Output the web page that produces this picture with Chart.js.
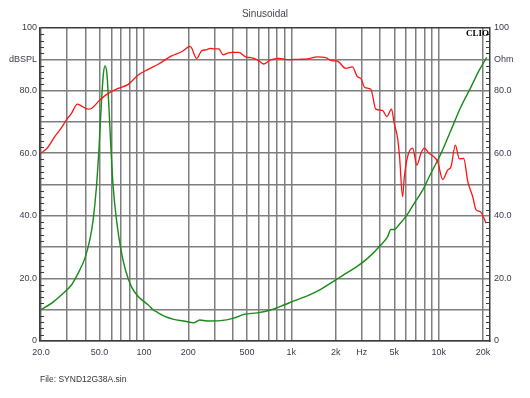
<!DOCTYPE html>
<html>
<head>
<meta charset="utf-8">
<script src="https://cdn.jsdelivr.net/npm/chart.js@4/dist/chart.umd.min.js"></script>
<style>
  html, body { margin: 0; padding: 0; background: #ffffff; }
  #wrap { width: 530px; height: 398px; position: relative; }
</style>
</head>
<body>
<div id="wrap"><canvas id="c" width="530" height="398"></canvas></div>
<script>
// ---- data ----
const freqSPL = [20, 22.3, 24.8, 27.5, 29.7, 32.2, 35.3, 37.6, 41.8, 44.0, 50.2, 57.2, 66.9, 78.2, 91.4, 107, 125, 154, 180, 206, 228, 247, 264, 282, 300, 322, 345, 370, 397, 440, 489, 530, 557, 602, 651, 723, 823, 939, 1126, 1285, 1503, 1712, 1900, 2055, 2341, 2600, 2812, 2961, 3152, 3463, 3745, 4159, 4449, 4789, 4989, 5262, 5420, 5691, 5834, 6153, 6655, 7118, 7579, 7980, 8630, 9103, 9845, 10650, 11510, 12130, 12970, 13810, 14790, 15750, 17030, 17940, 19190, 20980];
const spl = [60.0, 61.9, 65.3, 68.1, 70.6, 72.7, 75.7, 75.1, 74.1, 74.3, 77.0, 79.1, 80.7, 82.0, 85.0, 86.8, 88.4, 91.1, 92.4, 94.1, 90.3, 92.8, 93.0, 93.5, 93.3, 93.3, 91.4, 92.0, 92.2, 92.2, 90.8, 90.5, 90.3, 89.5, 88.5, 89.8, 90.3, 89.9, 90.0, 90.1, 90.8, 90.5, 89.5, 89.4, 87.1, 87.6, 84.4, 83.9, 81.0, 80.4, 74.1, 73.7, 71.7, 74.1, 69.6, 64.8, 59.2, 46.1, 52.0, 58.9, 61.6, 56.2, 60.0, 61.6, 59.9, 59.2, 57.3, 51.6, 54.6, 55.7, 62.6, 58.2, 58.3, 51.0, 46.1, 41.9, 41.3, 37.6];

const freqZ = [20, 23.5, 27.5, 32.2, 35.7, 39.7, 42.9, 45.2, 47.6, 49.6, 51.4, 53.1, 54.5, 56.0, 57.8, 59.6, 61.8, 65.1, 69.8, 74.9, 82.3, 91.4, 107, 116, 125, 136, 159, 186, 218, 239, 268, 330, 407, 476, 587, 723, 891, 1042, 1285, 1582, 1851, 2108, 2279, 2812, 3289, 4051, 4498, 4737, 4989, 5395, 5993, 6823, 7784, 8863, 10370, 12130, 14180, 16590, 18890, 21210];
const impedance = [10.0, 12.0, 14.7, 17.9, 21.6, 26.4, 32.3, 38.7, 49.3, 62.1, 75.9, 85.5, 87.9, 85.5, 74.9, 62.1, 49.3, 38.7, 29.1, 22.7, 17.3, 14.2, 11.5, 9.9, 9.0, 8.0, 6.9, 6.4, 5.8, 6.7, 6.4, 6.5, 7.3, 8.5, 9.0, 9.9, 11.5, 12.8, 14.4, 16.5, 18.5, 20.2, 21.2, 23.9, 26.4, 30.7, 33.3, 35.6, 35.6, 37.2, 39.8, 44.0, 48.2, 53.6, 59.9, 67.4, 74.9, 81.2, 86.6, 90.6];

// tick values and labels
const xTickValues = [20, 30, 40, 50, 60, 70, 80, 90, 100, 200, 300, 400, 500, 600, 700, 800, 900, 1000, 2000, 3000, 4000, 5000, 6000, 7000, 8000, 9000, 10000, 20000];
const xTickLabels = {20: '20.0', 50: '50.0', 100: '100', 200: '200', 500: '500', 1000: '1k', 2000: '2k', 3000: 'Hz', 5000: '5k', 10000: '10k', 20000: '20k'};
const yTickValues = [0, 10, 20, 30, 40, 50, 60, 70, 80, 90, 100];
const yLeftLabels = ['0', '', '20.0', '', '40.0', '', '60.0', '', '80.0', 'dBSPL', '100'];
const yRightLabels = ['0', '', '20.0', '', '40.0', '', '60.0', '', '80.0', 'Ohm', '100'];
const yMinorTicks = [2, 4, 6, 8, 12, 14, 16, 18, 22, 24, 26, 28, 32, 34, 36, 38, 42, 44, 46, 48, 52, 54, 56, 58, 62, 64, 66, 68, 72, 74, 76, 78, 82, 84, 86, 88, 92, 94, 96, 98];

const titleText = 'Sinusoidal';
const fileText = 'File: SYND12G38A.sin';
const brandText = 'CLIO';

// ---- styling ----
const FONT = '"Liberation Sans", Arial, sans-serif';
const gridColor = '#7e7e7e';
const frameColor = '#3c3c3c';
const labelColor = '#3a3a4a';

function toPoints(xs, ys) { return xs.map((x, i) => ({x: x, y: ys[i]})); }

const decorPlugin = {
  id: 'decor',
  afterDatasetsDraw(chart) {
    const ctx = chart.ctx;
    const a = chart.chartArea;
    const ys = chart.scales.y;
    ctx.save();
    ctx.strokeStyle = frameColor;
    ctx.lineWidth = 1;
    ctx.beginPath();
    yMinorTicks.forEach(v => {
      const py = Math.round(ys.getPixelForValue(v)) + 0.5;
      ctx.moveTo(a.left, py); ctx.lineTo(a.left + 4, py);
      ctx.moveTo(a.right - 4, py); ctx.lineTo(a.right, py);
    });
    ctx.stroke();
    // brand
    ctx.fillStyle = '#000000';
    ctx.font = 'bold 9px "Liberation Serif", "Times New Roman", serif';
    ctx.textAlign = 'right';
    ctx.textBaseline = 'middle';
    ctx.fillText(brandText, a.right - 1, a.top + 6);
    ctx.restore();
  },
  afterDraw(chart) {
    const ctx = chart.ctx;
    const a = chart.chartArea;
    ctx.save();
    ctx.fillStyle = '#4a3f4f';
    ctx.font = '10px ' + FONT;
    ctx.textAlign = 'center';
    ctx.textBaseline = 'middle';
    ctx.fillText(titleText, (a.left + a.right) / 2, 14);
    ctx.fillStyle = '#333333';
    ctx.font = '8.5px ' + FONT;
    ctx.textAlign = 'left';
    ctx.fillText(fileText, a.left, 380);
    ctx.restore();
  }
};

new Chart(document.getElementById('c'), {
  type: 'line',
  data: {
    datasets: [
      {
        label: 'SPL',
        data: toPoints(freqSPL, spl),
        yAxisID: 'y',
        borderColor: '#ff1414',
        borderWidth: 1.3,
        pointRadius: 0,
        cubicInterpolationMode: 'monotone',
        fill: false
      },
      {
        label: 'Impedance',
        data: toPoints(freqZ, impedance),
        yAxisID: 'y2',
        borderColor: '#178a17',
        borderWidth: 1.4,
        pointRadius: 0,
        cubicInterpolationMode: 'monotone',
        fill: false
      }
    ]
  },
  options: {
    responsive: false,
    animation: false,
    devicePixelRatio: 1,
    layout: { padding: { top: 28, left: 0, right: 0, bottom: 0 } },
    plugins: { legend: { display: false }, title: { display: false }, tooltip: { enabled: false } },
    scales: {
      x: {
        type: 'logarithmic',
        min: 19.7,
        max: 22300,
        afterBuildTicks(scale) { scale.ticks = xTickValues.map(v => ({value: v})); },
        afterFit(scale) { scale.height = 57; },
        grid: { color: gridColor, lineWidth: 1.5, drawTicks: false },
        border: { display: true, color: frameColor, width: 1.5 },
        ticks: {
          autoSkip: false,
          maxRotation: 0,
          padding: 6,
          color: labelColor,
          font: { family: FONT, size: 9 },
          callback: (v) => xTickLabels[v] !== undefined ? xTickLabels[v] : ''
        }
      },
      y: {
        type: 'linear',
        position: 'left',
        min: 0,
        max: 100,
        afterBuildTicks(scale) { scale.ticks = yTickValues.map(v => ({value: v})); },
        afterFit(scale) { scale.width = 40; },
        grid: {
          color: (c) => (c.tick && c.tick.value === 100) ? frameColor : gridColor,
          lineWidth: 1.5,
          drawTicks: false
        },
        border: { display: true, color: frameColor, width: 1.5 },
        ticks: {
          padding: 3,
          color: labelColor,
          font: { family: FONT, size: 9 },
          callback: (v, i) => yLeftLabels[i]
        }
      },
      y2: {
        type: 'linear',
        position: 'right',
        min: 0,
        max: 100,
        afterBuildTicks(scale) { scale.ticks = yTickValues.map(v => ({value: v})); },
        afterFit(scale) { scale.width = 40; },
        grid: { drawOnChartArea: false, drawTicks: false },
        border: { display: true, color: frameColor, width: 1.5 },
        ticks: {
          padding: 4,
          color: labelColor,
          font: { family: FONT, size: 9 },
          callback: (v, i) => yRightLabels[i]
        }
      }
    }
  },
  plugins: [decorPlugin]
});
</script>
</body>
</html>
